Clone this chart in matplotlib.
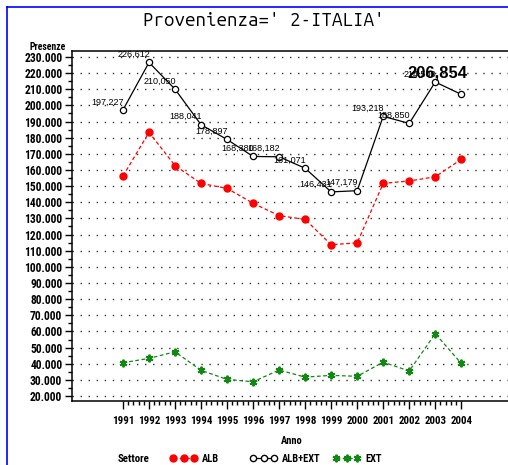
import matplotlib
matplotlib.use("Agg")
import matplotlib.pyplot as plt
from matplotlib.lines import Line2D
from matplotlib.ticker import FixedLocator, MultipleLocator, FuncFormatter
import matplotlib.transforms as mtransforms

# -------------------------
# Dati (migliaia di presenze)
# -------------------------
anni = [1991, 1992, 1993, 1994, 1995, 1996, 1997, 1998, 1999, 2000, 2001, 2002, 2003, 2004]
alb = [156.3, 183.3, 162.7, 151.7, 148.6, 139.4, 131.7, 129.4, 113.7, 114.9, 151.7, 153.2, 155.8, 166.6]
ext = [40.6, 43.3, 47.4, 35.9, 30.3, 28.8, 36.1, 31.7, 32.8, 32.2, 41.0, 35.5, 58.6, 40.2]
alb_ext = [197.227, 226.612, 210.050, 188.041, 178.897, 168.380, 168.182, 161.071,
           146.431, 147.179, 193.218, 188.850, 214.500, 206.854]

titolo = "Provenienza=' 2-ITALIA'"
NARROW = ["Roboto Condensed", "DejaVu Sans"]
MONO = ["Ubuntu Mono", "DejaVu Sans Mono"]


def fmt_it(v):
    # 197.227 -> "197,227"
    return f"{v:.3f}".replace(".", ",")


fig = plt.figure(figsize=(5.08, 4.65), dpi=100)
ax = fig.add_axes([0.1417, 0.1376, 0.92, 0.7527])

# bordo blu della pagina
fig.add_artist(Line2D([7 / 508, 7 / 508], [0, 1 - 7 / 465], color="#0000ff", lw=1.2))
fig.add_artist(Line2D([7 / 508, 1], [1 - 7 / 465, 1 - 7 / 465], color="#0000ff", lw=1.2))

# -------------------------
# Serie
# -------------------------
ax.plot(anni, alb, color="#ff0000", ls=(0, (3, 2)), lw=0.9,
        marker="o", ms=5, mfc="#ff0000", mec="#ff0000", zorder=3)
ax.plot(anni, alb_ext, color="black", ls="-", lw=0.9,
        marker="o", ms=4.5, mfc="white", mec="black", mew=0.9, zorder=3)
ax.plot(anni, ext, color="#118811", ls=(0, (3, 2)), lw=0.9,
        marker=(6, 2, 0), ms=5.5, mec="#118811", mew=1.4, zorder=3)

# etichette dei valori ALB+EXT
for a, v in zip(anni[:-1], alb_ext[:-1]):
    ax.annotate(fmt_it(v), xy=(a, v), xytext=(1, 8), textcoords="offset pixels",
                ha="right", va="center", fontsize=6.5, family="Liberation Sans", zorder=4)
# ultima etichetta grande e in grassetto
ax.annotate(fmt_it(alb_ext[-1]), xy=(anni[-1], alb_ext[-1]), xytext=(-24, 21),
            textcoords="offset pixels", ha="center", va="center",
            fontsize=12, fontweight="bold", family="Liberation Sans", zorder=5)

# -------------------------
# Assi
# -------------------------
ax.set_xlim(1989.04, 2007.0)
ax.set_ylim(16.9, 233.7)

ax.set_yticks(list(range(20, 231, 10)))
ax.yaxis.set_minor_locator(MultipleLocator(5))
ax.yaxis.set_major_formatter(FuncFormatter(lambda v, p: f"{v:.3f}"))

ax.xaxis.set_major_locator(FixedLocator(anni))
ax.xaxis.set_minor_locator(FixedLocator([1991 + k * 0.2 for k in range(66)]))

ax.tick_params(axis="both", which="major", direction="out", length=5, width=1, colors="black")
ax.tick_params(axis="both", which="minor", direction="out", length=3, width=1)
ax.tick_params(axis="x", which="major", length=6, pad=5)
ax.tick_params(axis="y", which="major", pad=2)

for lab in ax.get_yticklabels():
    lab.set_family(NARROW)
    lab.set_fontsize(8.3)
    lab.set_fontweight("bold")
for lab in ax.get_xticklabels():
    lab.set_family(NARROW)
    lab.set_fontsize(7.8)
    lab.set_fontweight("bold")

ax.spines["right"].set_visible(False)
for s in ["left", "top", "bottom"]:
    ax.spines[s].set_linewidth(1.1)

ax.grid(axis="y", which="major", color="#333333", ls=(0, (1, 4.8)), lw=1)
ax.set_axisbelow(True)

# -------------------------
# Testi
# -------------------------
fig.text(264 / 508, 1 - 20 / 465, titolo, ha="center", va="center",
         fontsize=13.5, family=MONO)
fig.text(66 / 508, 1 - 47 / 465, "Presenze", ha="right", va="center",
         fontsize=7, fontweight="bold", family=NARROW)

trans = mtransforms.blended_transform_factory(ax.transData, fig.transFigure)
ax.text((anni[0] + anni[-1]) / 2, 1 - 441 / 465, "Anno", transform=trans,
        ha="center", va="center", fontsize=7.5, fontweight="bold", family=NARROW)

# legenda
ly = 1 - 459 / 465
fig.text(118 / 508, ly, "Settore", ha="left", va="center",
         fontsize=7.8, fontweight="bold", family=NARROW)
voci = [
    ("ALB", dict(color="#ff0000", ls=(0, (3, 2)), marker="o", ms=5, mfc="#ff0000", mec="#ff0000"), 170),
    ("ALB+EXT", dict(color="black", ls="-", marker="o", ms=4.5, mfc="white", mec="black"), 250),
    ("EXT", dict(color="#118811", ls=(0, (3, 2)), marker=(6, 2, 0), ms=5.5, mec="#118811", mew=1.4), 333),
]
for nome, stile, x0 in voci:
    h = Line2D([], [], lw=0.9, **stile)
    fig.legend([h], [nome], loc="center left", bbox_to_anchor=(x0 / 508, ly),
               numpoints=3, handlelength=2.6, handletextpad=0.5, frameon=False,
               borderpad=0, borderaxespad=0,
               prop={"family": NARROW, "size": 7.5, "weight": "bold"})

fig.savefig("out.png", dpi=100)
